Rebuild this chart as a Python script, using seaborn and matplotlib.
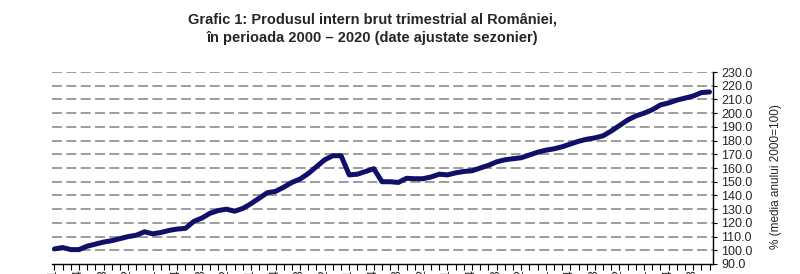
import matplotlib
matplotlib.use("Agg")
import matplotlib.pyplot as plt
import seaborn as sns
import pandas as pd
import numpy as np
from matplotlib.ticker import FixedLocator, FormatStrFormatter

# ---- data (index, average 2000 = 100), quarterly 2000 T1 .. 2020 T1 ----
years = [y for y in range(2000, 2021) for _ in range(4)][:81]
quarters = [q for _ in range(2000, 2021) for q in (1, 2, 3, 4)][:81]
gdp_index = [
    101.0, 102.0, 100.5, 100.5, 103.0, 104.5, 106.0, 107.0,
    108.5, 110.0, 111.0, 113.5, 112.0, 113.0, 114.5, 115.5,
    116.0, 121.0, 123.5, 127.0, 129.0, 130.0, 128.5, 130.5,
    134.0, 138.0, 142.0, 143.0, 146.0, 149.5, 152.0, 156.0,
    161.0, 166.0, 169.0, 169.0, 155.0, 155.5, 157.5, 159.5,
    150.0, 150.0, 149.5, 152.5, 152.2, 152.2, 153.5, 155.5,
    155.0, 156.5, 157.5, 158.0, 160.0, 162.0, 164.5, 166.0,
    166.8, 167.5, 169.5, 171.5, 173.0, 174.0, 175.5, 177.5,
    179.5, 181.0, 182.0, 183.5, 187.0, 191.0, 195.0, 198.0,
    200.0, 202.5, 206.0, 207.5, 209.5, 211.0, 212.5, 215.0,
    215.5,
]
period_labels = [f"{y} T{q}" for y, q in zip(years, quarters)]
y_ticks = list(range(90, 231, 10))

title_text = ("Grafic 1: Produsul intern brut trimestrial al României,\n"
              "în perioada 2000 – 2020 (date ajustate sezonier)")
ylabel_text = "% (media anului 2000=100)"

df = pd.DataFrame({"pos": np.arange(len(gdp_index)), "val": gdp_index,
                   "lab": period_labels})

sns.set_theme(style="white")
plt.rcParams["font.family"] = ["Liberation Sans", "DejaVu Sans"]

fig = plt.figure(figsize=(8.0, 2.74), dpi=100)
ax = fig.add_axes([0.065, 0.0365, 0.826, 0.7005])

sns.lineplot(data=df, x="pos", y="val", ax=ax, color="#10106a",
             linewidth=3.6, solid_capstyle="round", solid_joinstyle="round")

ax.set_xlim(-0.3, 80.4)
ax.set_ylim(90, 230)

# gridlines
for v in y_ticks[1:]:
    ax.axhline(v, color="#8c8c8c", linewidth=1.2, dashes=(6, 2.6), zorder=0)

ax.yaxis.tick_right()
ax.yaxis.set_major_locator(FixedLocator(y_ticks))
ax.yaxis.set_major_formatter(FormatStrFormatter("%.1f"))
ax.tick_params(axis="y", which="major", direction="out", length=3, width=0.8,
               color="black", labelsize=9, pad=3, right=True, left=False)

ax.xaxis.set_major_locator(FixedLocator(df["pos"][::3].tolist()))
ax.set_xticklabels(df["lab"][::3].tolist(), rotation=90, fontsize=9)
ax.xaxis.set_minor_locator(FixedLocator(df["pos"].tolist()))
ax.tick_params(axis="x", which="both", direction="out", length=4, width=0.8,
               color="black", bottom=True, pad=0.5)

for s in ("top", "left"):
    ax.spines[s].set_visible(False)
for s in ("bottom", "right"):
    ax.spines[s].set_color("black")
    ax.spines[s].set_linewidth(1.0)
ax.set_xlabel("")
ax.set_ylabel("")

fig.text(0.466, 0.895, title_text, ha="center", va="center", fontsize=10.5,
         fontweight="bold", linespacing=1.35,
         family=["Liberation Sans Narrow", "Liberation Sans", "DejaVu Sans"])
fig.text(0.97, 0.354, ylabel_text, rotation=90, ha="center", va="center",
         fontsize=8.5)

fig.savefig("out.png", dpi=100, facecolor="white")
